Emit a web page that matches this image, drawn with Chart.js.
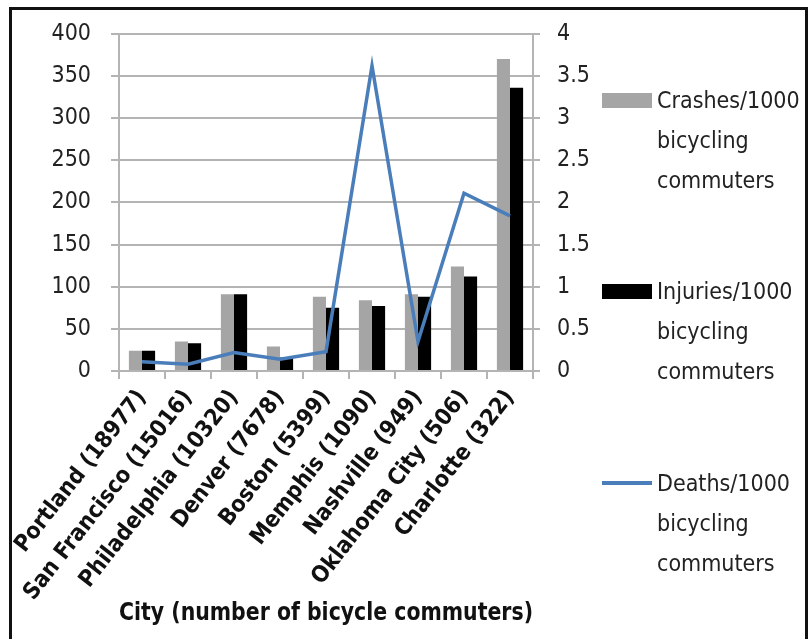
<!DOCTYPE html>
<html>
<head>
<meta charset="utf-8">
<script src="https://cdn.jsdelivr.net/npm/chart.js@4.4.1/dist/chart.umd.min.js"></script>
<style>
    html, body { margin: 0; padding: 0; background: #fff; overflow: hidden; }
    #wrap { position: relative; width: 808px; height: 639px; }
    #frame { position: absolute; left: 9px; top: 7px; width: 799px; height: 700px; border: 3px solid #111; box-sizing: border-box; }
    #chart { position: absolute; left: 0; top: 0; }
    #legend { position: absolute; left: 602px; top: 0; font-family: 'Liberation Sans Narrow', 'DejaVu Sans Condensed', Lato, sans-serif; font-size: 23px; color: #222; }
    .item { position: absolute; left: 0; display: flex; align-items: flex-start; white-space: nowrap; }
    .box { width: 50px; margin-right: 5px; }
    .text { white-space: pre-line; line-height: 40px; }
</style>
</head>
<body>
<div id="wrap">
    <div id="frame"></div>
    <canvas id="chart" width="808" height="639"></canvas>
    <div id="legend"></div>
</div>
<script>
// データ
var categories = ['Portland (18977)', 'San Francisco (15016)', 'Philadelphia (10320)', 'Denver (7678)',
    'Boston (5399)', 'Memphis (1090)', 'Nashville (949)', 'Oklahoma City (506)', 'Charlotte (322)'];
var crashes = [24, 35, 91, 29, 88, 84, 91, 124, 370];
var injuries = [24, 33, 91, 16, 75, 77, 88, 112, 336];
var deaths = [0.11, 0.08, 0.22, 0.14, 0.23, 3.62, 0.35, 2.11, 1.84];
var seriesNames = ['Crashes/1000\nbicycling\ncommuters', 'Injuries/1000\nbicycling\ncommuters', 'Deaths/1000\nbicycling\ncommuters'];
var leftTicks = [0, 50, 100, 150, 200, 250, 300, 350, 400];
var rightTicks = [0, 0.5, 1, 1.5, 2, 2.5, 3, 3.5, 4];
var xTitle = 'City (number of bicycle commuters)';

var FONT = "'Liberation Sans Narrow', 'DejaVu Sans Condensed', Lato, sans-serif";
var GRID = '#b4b4b4';
Chart.defaults.font.family = FONT;

var ctx = document.getElementById('chart').getContext('2d');
var myChart = new Chart(ctx, {
    type: 'bar',
    data: {
        labels: categories,
        datasets: [{
            label: seriesNames[0],
            data: crashes,
            backgroundColor: '#a5a5a5',
            categoryPercentage: 0.57,
            barPercentage: 1.0,
            order: 1,
            yAxisID: 'y'
        }, {
            label: seriesNames[1],
            data: injuries,
            backgroundColor: '#000000',
            categoryPercentage: 0.57,
            barPercentage: 1.0,
            order: 1,
            yAxisID: 'y'
        }, {
            type: 'line',
            label: seriesNames[2],
            data: deaths,
            borderColor: '#4a7ebb',
            backgroundColor: '#4a7ebb',
            borderWidth: 3.5,
            pointRadius: 0,
            tension: 0,
            fill: false,
            order: 0,
            yAxisID: 'y1'
        }]
    },
    options: {
        responsive: false,
        animation: false,
        layout: { padding: { left: 10, top: 29, right: 215, bottom: 0 } },
        plugins: { legend: { display: false }, tooltip: { enabled: false } },
        scales: {
            x: {
                grid: { offset: true, drawOnChartArea: false, color: GRID, lineWidth: 2, tickLength: 8 },
                border: { color: GRID, width: 2 },
                ticks: { autoSkip: false, minRotation: 52, maxRotation: 52, color: '#111', padding: 6,
                    font: { size: 23, weight: 'bold' } },
                title: { display: true, text: xTitle, color: '#111', padding: { top: 0, bottom: 11 },
                    font: { size: 25, weight: 'bold' } },
                afterFit: function (s) { s.height = 268; s.paddingLeft = 0; s.paddingRight = 0; }
            },
            y: {
                position: 'left',
                min: 0, max: 400,
                grid: { color: GRID, lineWidth: 2, tickLength: 8 },
                border: { color: GRID, width: 2 },
                ticks: { color: '#222', padding: 20, font: { size: 23 } },
                afterBuildTicks: function (s) { s.ticks = leftTicks.map(function (v) { return { value: v }; }); },
                afterFit: function (s) { s.width = 109; }
            },
            y1: {
                position: 'right',
                min: 0, max: 4,
                grid: { drawOnChartArea: false, color: GRID, lineWidth: 2, tickLength: 7 },
                border: { color: GRID, width: 2 },
                ticks: { color: '#222', padding: 17, font: { size: 23 },
                    callback: function (v) { return String(v); } },
                afterBuildTicks: function (s) { s.ticks = rightTicks.map(function (v) { return { value: v }; }); },
                afterFit: function (s) { s.width = 60; }
            }
        }
    }
});

// 凡例 (HTML)
var legendTops = [80, 271, 463];
var legend = document.getElementById('legend');
myChart.data.datasets.forEach(function (ds, i) {
    var item = document.createElement('div');
    item.className = 'item';
    item.style.top = legendTops[i] + 'px';
    var box = document.createElement('div');
    box.className = 'box';
    var h = ds.type === 'line' ? 4 : 15;
    box.style.height = h + 'px';
    box.style.marginTop = (20 - h / 2) + 'px';
    box.style.background = ds.type === 'line' ? ds.borderColor : ds.backgroundColor;
    var text = document.createElement('div');
    text.className = 'text';
    text.textContent = ds.label;
    item.appendChild(box);
    item.appendChild(text);
    legend.appendChild(item);
});
</script>
</body>
</html>
